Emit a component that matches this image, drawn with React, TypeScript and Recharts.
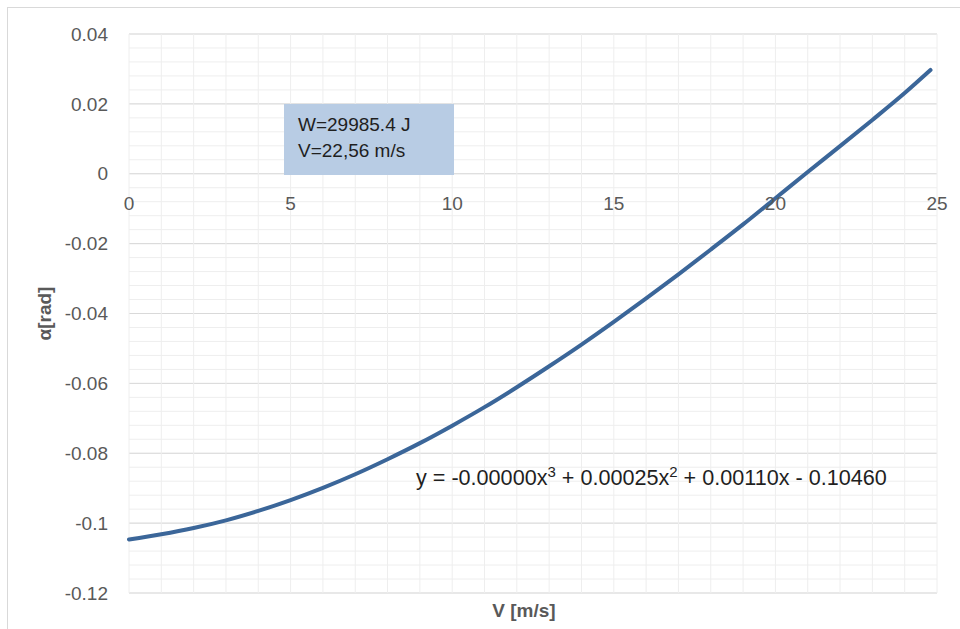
import { LineChart, Line, XAxis, YAxis, CartesianGrid, ReferenceDot, ReferenceLine } from "recharts";

// values
const speed = [0, 1, 2, 3, 4, 5, 6, 7, 8, 9, 10, 11, 12, 13, 14, 15, 16, 17, 18, 19, 20, 21, 22, 23, 24, 24.8];
const alpha = [
  -0.1047, -0.1032, -0.1014, -0.0992, -0.0965, -0.0934, -0.0899, -0.086, -0.0817, -0.0771,
  -0.0721, -0.0668, -0.0611, -0.0551, -0.0489, -0.0424, -0.0357, -0.0288, -0.0217, -0.0145,
  -0.007, 0.0005, 0.0079, 0.0154, 0.0231, 0.0297,
];

const xTicks = [0, 5, 10, 15, 20, 25];
const yTicks = [-0.12, -0.1, -0.08, -0.06, -0.04, -0.02, 0, 0.02, 0.04];
const xMinor = Array.from({ length: 26 }, (_, i) => i);
const yMinor = Array.from({ length: 41 }, (_, i) => Number((-0.12 + i * 0.004).toFixed(3)));

const infoLines = ["W=29985.4 J", "V=22,56 m/s"];

const data = speed.map((v, i) => ({ v, a: alpha[i] }));

const FONT = "'Liberation Sans', Arial, sans-serif";
const GREY = "#595959";
const MINOR = "#eeeeee";

export default function App() {
  return (
    <div
      style={{
        position: "absolute",
        left: 0,
        top: 0,
        width: 960,
        height: 629,
        overflow: "hidden",
        background: "#fff",
        fontFamily: FONT,
      }}
    >
      <div
        style={{
          position: "absolute",
          left: 7,
          top: 7,
          width: 1000,
          height: 700,
          borderLeft: "1px solid #d9d9d9",
          borderTop: "1px solid #d9d9d9",
        }}
      />
      <LineChart
        width={960}
        height={629}
        data={data}
        margin={{ top: 34, right: 23, bottom: 0, left: 0 }}
        style={{ position: "absolute", left: 0, top: 0 }}
      >
        <CartesianGrid vertical={false} horizontalValues={yMinor} stroke={MINOR} strokeWidth={1} />
        {xMinor.map((m) => (
          <ReferenceLine key={"m" + m} x={m} stroke={MINOR} strokeWidth={1} />
        ))}
        <CartesianGrid verticalValues={xTicks} horizontalValues={yTicks} stroke="#d9d9d9" strokeWidth={1} />
        <XAxis
          dataKey="v"
          type="number"
          domain={[0, 25]}
          ticks={xTicks}
          tick={false}
          axisLine={false}
          tickLine={false}
          height={36}
          label={{
            value: "V [m/s]",
            position: "insideBottom",
            offset: 12,
            dx: -9,
            fill: GREY,
            fontSize: 19,
            fontWeight: 700,
            fontFamily: FONT,
          }}
        />
        <YAxis
          type="number"
          domain={[-0.12, 0.04]}
          ticks={yTicks}
          interval={0}
          width={129}
          axisLine={false}
          tickLine={false}
          tickSize={0}
          tickMargin={21}
          tickFormatter={(v: number) => String(v)}
          tick={{ fontSize: 19, fill: GREY, fontFamily: FONT }}
          label={{
            value: "α[rad]",
            angle: -90,
            position: "center",
            dx: -20,
            fill: GREY,
            fontSize: 19,
            fontWeight: 700,
            fontFamily: FONT,
          }}
        />
        {xTicks.map((t) => (
          <ReferenceDot
            key={t}
            x={t}
            y={0}
            r={0}
            ifOverflow="visible"
            fill="none"
            stroke="none"
            label={{ value: String(t), position: "bottom", offset: 23, fill: GREY, fontSize: 19, fontFamily: FONT }}
          />
        ))}
        <Line
          type="monotone"
          dataKey="a"
          stroke="#3b6699"
          strokeWidth={4}
          strokeLinecap="round"
          dot={false}
          activeDot={false}
          isAnimationActive={false}
        />
      </LineChart>
      <div
        style={{
          position: "absolute",
          left: 284,
          top: 104,
          width: 170,
          height: 71,
          background: "#b8cce4",
          boxSizing: "border-box",
          padding: "8px 0 0 14px",
          fontSize: 19,
          lineHeight: "26px",
          color: "#1f1f1f",
        }}
      >
        {infoLines.map((l) => (
          <div key={l}>{l}</div>
        ))}
      </div>
      <div
        style={{
          position: "absolute",
          left: 416,
          top: 467,
          fontSize: 21.6,
          lineHeight: "21px",
          color: "#1f1f1f",
          whiteSpace: "nowrap",
        }}
      >
        y = -0.00000x<span style={{ fontSize: 15, position: "relative", top: -8 }}>3</span> + 0.00025x
        <span style={{ fontSize: 15, position: "relative", top: -8 }}>2</span> + 0.00110x - 0.10460
      </div>
    </div>
  );
}
